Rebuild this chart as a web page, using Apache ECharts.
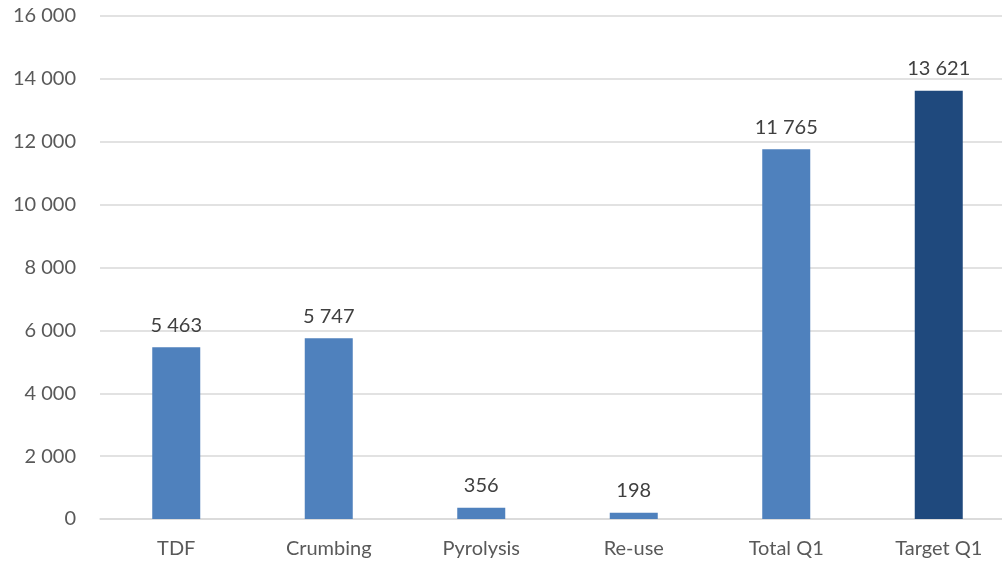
<!DOCTYPE html>
<html><head><meta charset="utf-8">
<script src="https://cdn.jsdelivr.net/npm/echarts@6/dist/echarts.min.js"></script>
<style>html,body{margin:0;padding:0;background:#fff}#c{width:1002px;height:565px}</style>
</head><body><div id="c"></div>
<script>
const categories = ["TDF", "Crumbing", "Pyrolysis", "Re-use", "Total Q1", "Target Q1"];
const values = [5463, 5747, 356, 198, 11765, 13621];
const barColors = ["#4F81BD", "#4F81BD", "#4F81BD", "#4F81BD", "#4F81BD", "#1F497D"];
const yTicks = { min: 0, max: 16000, interval: 2000 };

function fmt(v) { return String(v).replace(/\B(?=(\d{3})+(?!\d))/g, " "); }

const chart = echarts.init(document.getElementById('c'), null, { renderer: 'canvas' });
chart.setOption({
  animation: false,
  textStyle: { fontFamily: 'Lato', color: '#595959' },
  grid: { left: 100, width: 915, top: 16, bottom: 46, containLabel: false, outerBoundsMode: 'none' },
  xAxis: {
    type: 'category', data: categories,
    axisLine: { show: true, lineStyle: { color: '#D9D9D9', width: 1.5 } },
    axisTick: { show: false },
    axisLabel: { color: '#595959', fontSize: 20, margin: 20, fontFamily: 'Lato' }
  },
  yAxis: {
    type: 'value', min: yTicks.min, max: yTicks.max, interval: yTicks.interval,
    axisLine: { show: false }, axisTick: { show: false },
    splitLine: { lineStyle: { color: '#D9D9D9', width: 1.5 } },
    axisLabel: { color: '#595959', fontSize: 20, margin: 24, formatter: fmt, fontFamily: 'Lato' }
  },
  series: [{
    type: 'bar',
    data: values.map((v, i) => ({ value: v, itemStyle: { color: barColors[i] } })),
    barWidth: 48,
    label: { show: true, position: 'top', distance: 12, color: '#404040', fontSize: 20, fontFamily: 'Lato', formatter: p => fmt(p.value) }
  }]
});
</script></body></html>
